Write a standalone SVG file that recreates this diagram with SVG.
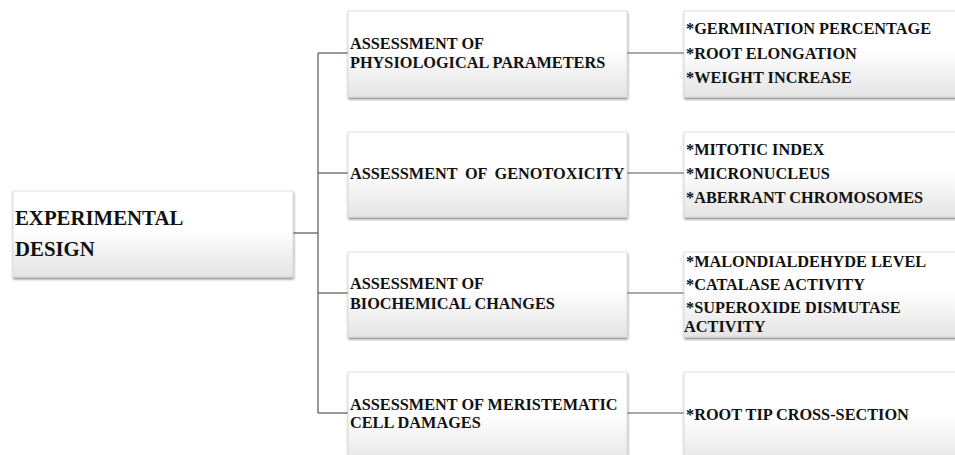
<svg xmlns="http://www.w3.org/2000/svg" width="955" height="455" viewBox="0 0 955 455">
<defs>
<linearGradient id="g" x1="0" y1="0" x2="0" y2="1">
<stop offset="0" stop-color="#ffffff"/>
<stop offset="0.45" stop-color="#ffffff"/>
<stop offset="1" stop-color="#e4e4e4"/>
</linearGradient>
<filter id="sh" x="-5%" y="-10%" width="110%" height="125%">
<feDropShadow dx="0.5" dy="2" stdDeviation="1.2" flood-color="#000" flood-opacity="0.45"/>
</filter>
</defs>
<style>
.box{fill:url(#g);stroke:#d8d8d8;stroke-width:0.8;filter:url(#sh)}
.t{font-family:"Liberation Serif","Times New Roman",serif;font-weight:bold;fill:#111}
.t20{font-size:20.8px}
.t16{font-size:16.3px}
.ln{stroke:#555;stroke-width:1.2;fill:none}
</style>
<rect width="955" height="455" fill="#fff"/>
<g id="connectors">
<line class="ln" x1="293" y1="233" x2="318" y2="233"/>
<line class="ln" x1="318" y1="53" x2="318" y2="413"/>
<line class="ln" x1="318" y1="53" x2="348" y2="53"/>
<line class="ln" x1="318" y1="173" x2="348" y2="173"/>
<line class="ln" x1="318" y1="293" x2="348" y2="293"/>
<line class="ln" x1="318" y1="413" x2="348" y2="413"/>
<line class="ln" x1="627" y1="53" x2="684" y2="53"/>
<line class="ln" x1="627" y1="173" x2="684" y2="173"/>
<line class="ln" x1="627" y1="293" x2="684" y2="293"/>
<line class="ln" x1="627" y1="413" x2="684" y2="413"/>
</g>
<g id="root">
<rect class="box" x="13" y="191" width="280" height="86"/>
<text class="t t20" x="15" y="225">EXPERIMENTAL</text>
<text class="t t20" x="15" y="256">DESIGN</text>
</g>
<g id="physio">
<rect class="box" x="348" y="11" width="279" height="86"/>
<text class="t t16" x="350" y="49">ASSESSMENT OF</text>
<text class="t t16" x="350" y="68">PHYSIOLOGICAL PARAMETERS</text>
</g>
<g id="geno">
<rect class="box" x="348" y="132" width="279" height="85"/>
<text class="t t16" x="350" y="179" word-spacing="3.5">ASSESSMENT OF GENOTOXICITY</text>
</g>
<g id="biochem">
<rect class="box" x="348" y="252" width="279" height="85"/>
<text class="t t16" x="350" y="289">ASSESSMENT OF</text>
<text class="t t16" x="350" y="309">BIOCHEMICAL CHANGES</text>
</g>
<g id="meristem">
<rect class="box" x="348" y="372" width="279" height="95"/>
<text class="t t16" x="350" y="410">ASSESSMENT OF MERISTEMATIC</text>
<text class="t t16" x="350" y="428">CELL DAMAGES</text>
</g>
<g id="physio-items">
<rect class="box" x="684" y="11" width="290" height="86"/>
<text class="t t16" x="686" y="34">*GERMINATION PERCENTAGE</text>
<text class="t t16" x="686" y="59">*ROOT ELONGATION</text>
<text class="t t16" x="686" y="83">*WEIGHT INCREASE</text>
</g>
<g id="geno-items">
<rect class="box" x="684" y="132" width="290" height="85"/>
<text class="t t16" x="686" y="155">*MITOTIC INDEX</text>
<text class="t t16" x="686" y="179">*MICRONUCLEUS</text>
<text class="t t16" x="686" y="203">*ABERRANT CHROMOSOMES</text>
</g>
<g id="biochem-items">
<rect class="box" x="684" y="252" width="290" height="85"/>
<text class="t t16" x="686" y="267">*MALONDIALDEHYDE LEVEL</text>
<text class="t t16" x="686" y="290">*CATALASE ACTIVITY</text>
<text class="t t16" x="686" y="313">*SUPEROXIDE DISMUTASE</text>
<text class="t t16" x="684" y="332">ACTIVITY</text>
</g>
<g id="meristem-items">
<rect class="box" x="684" y="372" width="290" height="95"/>
<text class="t t16" x="686" y="420">*ROOT TIP CROSS-SECTION</text>
</g>
</svg>
